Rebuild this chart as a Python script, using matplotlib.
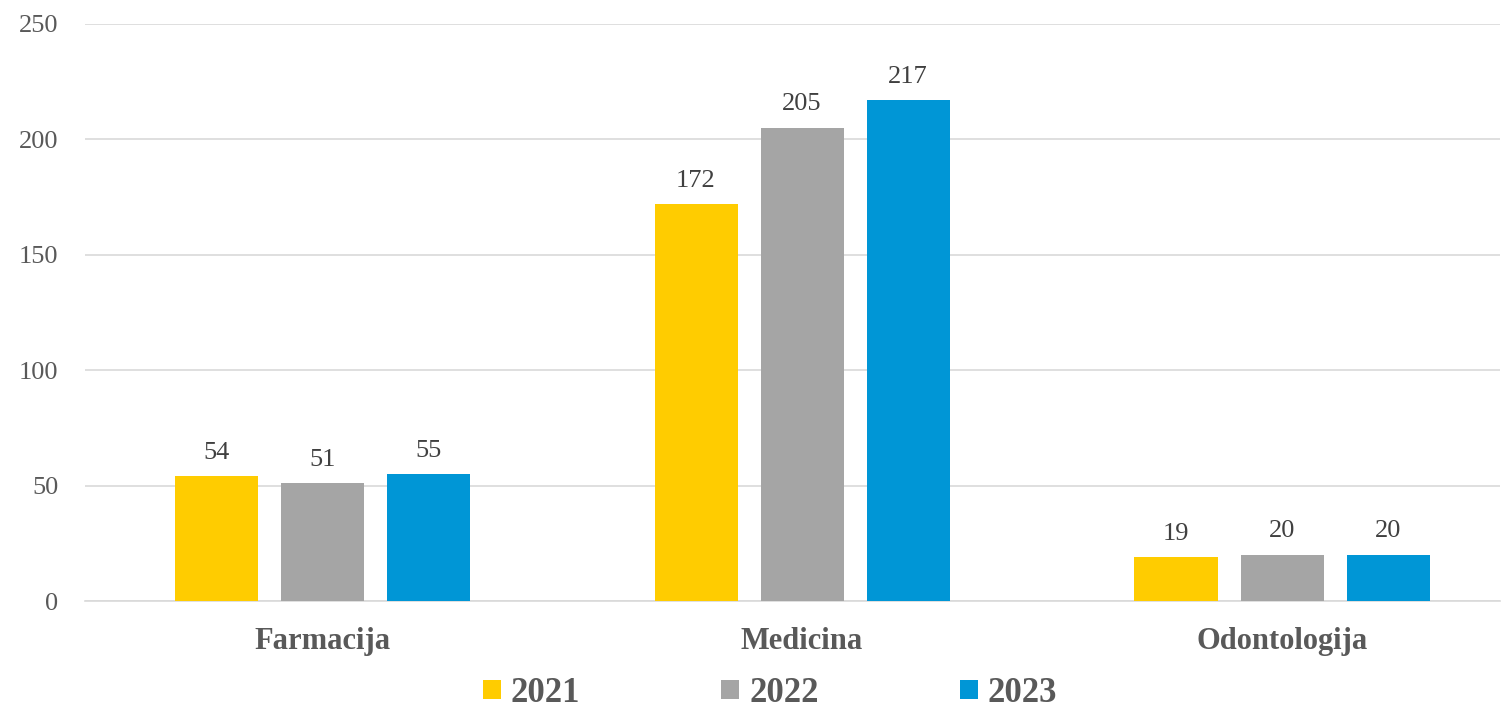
import matplotlib.pyplot as plt
import numpy as np

# donnees
categories = ['Farmacija', 'Medicina', 'Odontologija']
years = ['2021', '2022', '2023']
v2021 = [54, 172, 19]
v2022 = [51, 205, 20]
v2023 = [55, 217, 20]
colors = ['#FFCC00', '#A5A5A5', '#0096D6']

plt.rcParams['font.family'] = ['Liberation Serif', 'DejaVu Serif']

fig = plt.figure(figsize=(15.01, 7.14), dpi=100)
ax = fig.add_axes([85/1501, 113/714, 1415/1501, 577/714])

x = np.arange(len(categories))
w = 0.173
step = 0.221
series = [v2021, v2022, v2023]
for i, vals in enumerate(series):
    bars = ax.bar(x + (i - 1) * step, vals, w, color=colors[i], label=years[i], zorder=3)
    for b, v in zip(bars, vals):
        ax.annotate(str(v), (b.get_x() + b.get_width() / 2, v),
                    xytext=(0, 9), textcoords='offset points',
                    ha='center', va='bottom', fontsize=19, color='#404040')

ax.set_xlim(-0.494, 2.454)
ax.set_ylim(0, 250)
ax.set_yticks(range(0, 251, 50))
ax.yaxis.grid(True, color='#D9D9D9', linewidth=1.2, zorder=0)
for s in ['top', 'right', 'left']:
    ax.spines[s].set_visible(False)
ax.spines['bottom'].set_color('#D9D9D9')
ax.spines['bottom'].set_linewidth(1.2)
ax.tick_params(axis='y', length=0, pad=19, labelsize=19, labelcolor='#595959')
ax.tick_params(axis='x', length=0, pad=19)
ax.set_xticks(x)
ax.set_xticklabels(categories, fontsize=22, fontweight='bold', color='#595959')

leg = fig.legend(loc='lower center', bbox_to_anchor=(0.513, -0.038), ncol=3, frameon=False,
                 handlelength=0.52, handleheight=0.5, handletextpad=0.29,
                 columnspacing=4.06, prop={'size': 25, 'weight': 'bold'})
for t in leg.get_texts():
    t.set_color('#595959')

plt.savefig('out.png', dpi=100)
